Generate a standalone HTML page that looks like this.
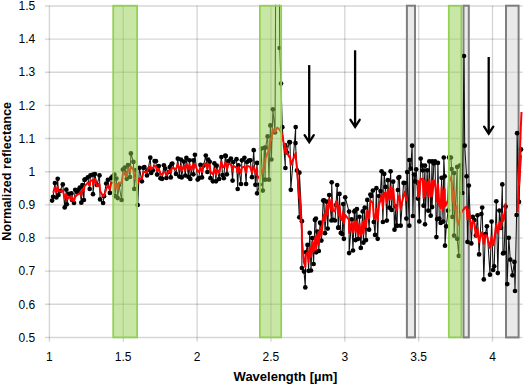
<!DOCTYPE html>
<html><head><meta charset="utf-8"><style>
html,body{margin:0;padding:0;background:#fff;}
body{width:525px;height:385px;overflow:hidden;}
svg{display:block;font-family:"Liberation Sans",sans-serif;}
</style></head><body>
<svg width="525" height="385" viewBox="0 0 525 385">
<rect width="525" height="385" fill="#fff"/>
<clipPath id="pc"><rect x="49.4" y="4.7" width="476.1" height="333.7"/></clipPath>
<g><line x1="44.9" y1="5.95" x2="522.5" y2="5.95" stroke="#000" stroke-opacity="0.16" stroke-width="1.4"/>
<line x1="44.9" y1="39.10" x2="522.5" y2="39.10" stroke="#000" stroke-opacity="0.16" stroke-width="1.4"/>
<line x1="44.9" y1="72.25" x2="522.5" y2="72.25" stroke="#000" stroke-opacity="0.16" stroke-width="1.4"/>
<line x1="44.9" y1="105.40" x2="522.5" y2="105.40" stroke="#000" stroke-opacity="0.16" stroke-width="1.4"/>
<line x1="44.9" y1="138.55" x2="522.5" y2="138.55" stroke="#000" stroke-opacity="0.16" stroke-width="1.4"/>
<line x1="44.9" y1="171.70" x2="522.5" y2="171.70" stroke="#000" stroke-opacity="0.16" stroke-width="1.4"/>
<line x1="44.9" y1="204.85" x2="522.5" y2="204.85" stroke="#000" stroke-opacity="0.16" stroke-width="1.4"/>
<line x1="44.9" y1="238.00" x2="522.5" y2="238.00" stroke="#000" stroke-opacity="0.16" stroke-width="1.4"/>
<line x1="44.9" y1="271.15" x2="522.5" y2="271.15" stroke="#000" stroke-opacity="0.16" stroke-width="1.4"/>
<line x1="44.9" y1="304.30" x2="522.5" y2="304.30" stroke="#000" stroke-opacity="0.16" stroke-width="1.4"/>
<line x1="44.9" y1="337.45" x2="522.5" y2="337.45" stroke="#000" stroke-opacity="0.16" stroke-width="1.4"/>
<line x1="49.40" y1="5.7" x2="49.40" y2="341.7" stroke="#000" stroke-opacity="0.16" stroke-width="1.4"/>
<line x1="123.25" y1="5.7" x2="123.25" y2="341.7" stroke="#000" stroke-opacity="0.16" stroke-width="1.4"/>
<line x1="197.10" y1="5.7" x2="197.10" y2="341.7" stroke="#000" stroke-opacity="0.16" stroke-width="1.4"/>
<line x1="270.95" y1="5.7" x2="270.95" y2="341.7" stroke="#000" stroke-opacity="0.16" stroke-width="1.4"/>
<line x1="344.80" y1="5.7" x2="344.80" y2="341.7" stroke="#000" stroke-opacity="0.16" stroke-width="1.4"/>
<line x1="418.65" y1="5.7" x2="418.65" y2="341.7" stroke="#000" stroke-opacity="0.16" stroke-width="1.4"/>
<line x1="492.50" y1="5.7" x2="492.50" y2="341.7" stroke="#000" stroke-opacity="0.16" stroke-width="1.4"/></g>
<g><rect x="406.9" y="5.7" width="8.1" height="331.7" fill="#d9d9d9" fill-opacity="0.55" stroke="#7f7f7f" stroke-width="2"/>
<rect x="463.5" y="5.7" width="5.3" height="331.7" fill="#d9d9d9" fill-opacity="0.55" stroke="#7f7f7f" stroke-width="2"/>
<rect x="506.0" y="5.7" width="12.6" height="331.7" fill="#d9d9d9" fill-opacity="0.55" stroke="#7f7f7f" stroke-width="2"/></g>
<g clip-path="url(#pc)"><polyline points="52.1,200.6 53.1,196.8 54.9,183.0 56.4,197.5 57.7,178.8 58.5,195.0 60.0,191.0 62.8,184.4 64.7,207.4 66.3,189.7 66.8,204.3 68.9,193.9 72.0,200.0 71.5,193.4 74.0,203.0 75.2,189.8 77.2,192.3 78.3,189.8 79.8,187.7 81.3,202.7 82.4,185.1 83.9,200.0 84.5,179.9 85.2,179.3 87.8,177.3 89.7,189.0 90.4,175.4 93.0,174.7 93.0,194.2 94.9,174.1 97.0,185.0 99.5,175.4 100.1,199.4 103.1,203.0 104.0,196.2 106.2,183.5 107.9,179.9 109.9,192.9 111.2,178.0 112.4,176.7 114.4,174.7 115.0,196.2 116.4,178.6 117.7,198.1 119.0,185.0 121.6,200.0 122.9,169.5 124.8,167.6 126.1,173.4 126.7,178.8 128.0,165.0 130.0,177.0 130.9,153.4 133.4,161.9 134.3,188.9 136.0,170.0 137.7,205.0 139.4,167.8 141.9,181.3 143.4,167.8 144.4,167.0 147.0,175.4 148.0,170.0 150.3,157.7 151.2,173.0 152.9,170.3 154.6,161.0 155.9,161.2 157.1,174.6 158.8,166.1 160.5,178.3 162.2,178.8 163.9,165.3 165.2,168.7 166.4,178.0 168.9,172.0 169.8,167.0 170.8,177.4 171.6,164.2 172.3,163.6 176.0,173.9 177.8,158.7 179.4,176.6 180.9,159.5 181.7,177.4 183.8,161.6 185.3,175.5 186.4,157.9 188.4,176.8 189.5,160.3 190.3,179.0 193.4,160.3 193.4,174.3 194.9,154.8 197.7,179.6 198.8,178.2 200.4,164.9 202.0,177.4 203.5,165.7 205.8,155.6 207.4,172.0 208.2,159.5 209.7,161.8 210.5,178.2 212.9,181.3 214.4,163.4 216.0,181.3 216.7,165.7 219.1,179.0 221.4,157.1 222.5,175.1 223.8,178.2 225.3,155.6 225.8,156.1 226.9,174.3 228.4,161.2 230.9,158.6 232.6,180.6 233.4,162.0 236.5,159.2 237.7,189.0 238.5,165.4 241.0,184.0 241.9,160.3 244.4,157.8 246.1,184.0 247.0,162.0 248.9,160.7 250.3,160.3 252.0,177.2 253.7,150.2 255.4,184.8 257.1,162.9 257.1,193.3 259.7,184.6 261.2,148.6 262.8,190.6 264.3,147.8 265.1,179.7 265.5,147.6 267.6,136.4 269.0,179.7 270.4,125.4 271.4,159.5 272.9,109.3 275.0,132.4 277.4,-400.0 279.7,48.0 281.0,83.6 282.3,127.2 285.4,168.0 285.0,145.0 285.4,146.2 286.9,152.5 289.3,142.1 290.0,142.3 290.8,189.8 295.7,127.1 295.5,143.1 297.0,170.4 299.3,217.3 299.4,172.7 301.9,221.2 301.9,268.0 304.0,271.6 305.3,287.4 305.8,252.3 307.5,244.9 308.6,270.8 309.7,232.9 311.0,270.5 312.3,238.0 313.6,264.0 314.9,219.9 315.9,218.6 316.2,252.3 317.5,231.6 318.6,233.2 318.8,251.0 320.1,222.5 320.5,223.2 321.4,240.6 323.2,200.5 324.0,200.4 325.0,233.2 326.6,201.7 327.7,228.6 329.2,195.0 331.4,220.5 331.7,182.3 333.0,219.9 335.0,220.5 336.0,205.0 337.2,185.0 338.2,227.7 338.6,227.7 339.5,193.9 340.8,232.9 342.3,234.1 343.2,204.1 343.9,238.8 345.2,197.3 349.1,211.6 349.1,253.1 351.7,219.4 353.0,250.5 354.3,211.6 355.0,210.7 355.6,240.1 356.9,209.0 358.2,238.8 359.5,216.8 360.8,247.9 362.7,211.4 363.4,242.7 364.7,207.7 366.0,240.1 367.3,199.9 369.1,229.7 370.4,194.6 371.2,196.0 372.9,190.5 373.8,222.0 375.1,234.9 376.4,188.2 377.7,238.8 379.0,196.0 380.5,191.1 381.6,171.3 382.9,222.0 384.2,173.9 385.5,186.9 386.8,220.6 387.9,180.2 389.4,207.7 390.6,171.3 391.6,209.9 393.2,181.7 394.5,229.7 395.8,206.4 396.4,225.7 397.1,225.8 397.9,190.0 398.4,177.8 399.3,177.1 400.7,225.7 403.6,182.9 404.9,183.0 406.4,218.6 407.2,172.1 409.3,225.7 409.3,160.0 410.7,168.6 412.1,145.7 412.9,216.0 414.0,174.5 415.0,181.4 416.2,169.3 417.9,198.6 417.9,182.9 419.3,221.4 420.7,158.6 422.1,165.7 422.8,170.3 423.6,205.7 425.0,165.7 425.0,224.3 427.2,170.3 428.3,210.7 429.3,161.4 430.7,215.7 432.1,161.4 432.1,207.1 433.8,163.5 435.0,161.4 436.4,237.1 437.1,219.1 437.9,162.9 439.3,218.6 440.7,222.9 441.6,177.8 443.1,221.6 443.8,157.5 444.7,176.3 445.0,245.7 446.3,226.3 448.1,210.7 449.1,157.4 450.9,157.5 451.6,169.1 452.5,216.9 454.1,173.1 454.1,235.6 457.2,166.9 457.2,238.8 458.8,255.9 460.3,165.3 462.3,193.0 464.0,56.0 464.7,145.7 466.6,176.3 467.5,241.9 468.8,185.6 471.3,243.4 472.8,216.9 474.4,220.0 475.9,235.6 477.5,215.3 479.1,254.4 481.4,214.0 482.2,207.5 483.8,279.4 485.3,234.1 486.9,226.3 490.0,274.7 491.6,221.6 493.1,270.0 494.2,266.3 496.3,201.3 497.8,273.1 499.4,210.6 500.9,227.8 502.3,184.4 503.0,253.4 504.1,252.8 505.6,206.6 507.2,284.1 508.8,237.8 510.3,259.7 512.5,275.3 514.4,261.9 515.0,291.0 516.6,215.0 517.1,133.2 519.0,201.9 521.0,149.4" fill="none" stroke="#111" stroke-width="1.05" stroke-linejoin="round"/>
<circle cx="52.1" cy="200.6" r="2.35"/>
<circle cx="53.1" cy="196.8" r="2.35"/>
<circle cx="54.9" cy="183.0" r="2.35"/>
<circle cx="56.4" cy="197.5" r="2.35"/>
<circle cx="57.7" cy="178.8" r="2.35"/>
<circle cx="58.5" cy="195.0" r="2.35"/>
<circle cx="60.0" cy="191.0" r="2.35"/>
<circle cx="62.8" cy="184.4" r="2.35"/>
<circle cx="64.7" cy="207.4" r="2.35"/>
<circle cx="66.3" cy="189.7" r="2.35"/>
<circle cx="66.8" cy="204.3" r="2.35"/>
<circle cx="68.9" cy="193.9" r="2.35"/>
<circle cx="72.0" cy="200.0" r="2.35"/>
<circle cx="71.5" cy="193.4" r="2.35"/>
<circle cx="74.0" cy="203.0" r="2.35"/>
<circle cx="75.2" cy="189.8" r="2.35"/>
<circle cx="77.2" cy="192.3" r="2.35"/>
<circle cx="78.3" cy="189.8" r="2.35"/>
<circle cx="79.8" cy="187.7" r="2.35"/>
<circle cx="81.3" cy="202.7" r="2.35"/>
<circle cx="82.4" cy="185.1" r="2.35"/>
<circle cx="83.9" cy="200.0" r="2.35"/>
<circle cx="84.5" cy="179.9" r="2.35"/>
<circle cx="85.2" cy="179.3" r="2.35"/>
<circle cx="87.8" cy="177.3" r="2.35"/>
<circle cx="89.7" cy="189.0" r="2.35"/>
<circle cx="90.4" cy="175.4" r="2.35"/>
<circle cx="93.0" cy="174.7" r="2.35"/>
<circle cx="93.0" cy="194.2" r="2.35"/>
<circle cx="94.9" cy="174.1" r="2.35"/>
<circle cx="97.0" cy="185.0" r="2.35"/>
<circle cx="99.5" cy="175.4" r="2.35"/>
<circle cx="100.1" cy="199.4" r="2.35"/>
<circle cx="103.1" cy="203.0" r="2.35"/>
<circle cx="104.0" cy="196.2" r="2.35"/>
<circle cx="106.2" cy="183.5" r="2.35"/>
<circle cx="107.9" cy="179.9" r="2.35"/>
<circle cx="109.9" cy="192.9" r="2.35"/>
<circle cx="111.2" cy="178.0" r="2.35"/>
<circle cx="112.4" cy="176.7" r="2.35"/>
<circle cx="114.4" cy="174.7" r="2.35"/>
<circle cx="115.0" cy="196.2" r="2.35"/>
<circle cx="116.4" cy="178.6" r="2.35"/>
<circle cx="117.7" cy="198.1" r="2.35"/>
<circle cx="119.0" cy="185.0" r="2.35"/>
<circle cx="121.6" cy="200.0" r="2.35"/>
<circle cx="122.9" cy="169.5" r="2.35"/>
<circle cx="124.8" cy="167.6" r="2.35"/>
<circle cx="126.1" cy="173.4" r="2.35"/>
<circle cx="126.7" cy="178.8" r="2.35"/>
<circle cx="128.0" cy="165.0" r="2.35"/>
<circle cx="130.0" cy="177.0" r="2.35"/>
<circle cx="130.9" cy="153.4" r="2.35"/>
<circle cx="133.4" cy="161.9" r="2.35"/>
<circle cx="134.3" cy="188.9" r="2.35"/>
<circle cx="136.0" cy="170.0" r="2.35"/>
<circle cx="137.7" cy="205.0" r="2.35"/>
<circle cx="139.4" cy="167.8" r="2.35"/>
<circle cx="141.9" cy="181.3" r="2.35"/>
<circle cx="143.4" cy="167.8" r="2.35"/>
<circle cx="144.4" cy="167.0" r="2.35"/>
<circle cx="147.0" cy="175.4" r="2.35"/>
<circle cx="148.0" cy="170.0" r="2.35"/>
<circle cx="150.3" cy="157.7" r="2.35"/>
<circle cx="151.2" cy="173.0" r="2.35"/>
<circle cx="152.9" cy="170.3" r="2.35"/>
<circle cx="154.6" cy="161.0" r="2.35"/>
<circle cx="155.9" cy="161.2" r="2.35"/>
<circle cx="157.1" cy="174.6" r="2.35"/>
<circle cx="158.8" cy="166.1" r="2.35"/>
<circle cx="160.5" cy="178.3" r="2.35"/>
<circle cx="162.2" cy="178.8" r="2.35"/>
<circle cx="163.9" cy="165.3" r="2.35"/>
<circle cx="165.2" cy="168.7" r="2.35"/>
<circle cx="166.4" cy="178.0" r="2.35"/>
<circle cx="168.9" cy="172.0" r="2.35"/>
<circle cx="169.8" cy="167.0" r="2.35"/>
<circle cx="170.8" cy="177.4" r="2.35"/>
<circle cx="171.6" cy="164.2" r="2.35"/>
<circle cx="172.3" cy="163.6" r="2.35"/>
<circle cx="176.0" cy="173.9" r="2.35"/>
<circle cx="177.8" cy="158.7" r="2.35"/>
<circle cx="179.4" cy="176.6" r="2.35"/>
<circle cx="180.9" cy="159.5" r="2.35"/>
<circle cx="181.7" cy="177.4" r="2.35"/>
<circle cx="183.8" cy="161.6" r="2.35"/>
<circle cx="185.3" cy="175.5" r="2.35"/>
<circle cx="186.4" cy="157.9" r="2.35"/>
<circle cx="188.4" cy="176.8" r="2.35"/>
<circle cx="189.5" cy="160.3" r="2.35"/>
<circle cx="190.3" cy="179.0" r="2.35"/>
<circle cx="193.4" cy="160.3" r="2.35"/>
<circle cx="193.4" cy="174.3" r="2.35"/>
<circle cx="194.9" cy="154.8" r="2.35"/>
<circle cx="197.7" cy="179.6" r="2.35"/>
<circle cx="198.8" cy="178.2" r="2.35"/>
<circle cx="200.4" cy="164.9" r="2.35"/>
<circle cx="202.0" cy="177.4" r="2.35"/>
<circle cx="203.5" cy="165.7" r="2.35"/>
<circle cx="205.8" cy="155.6" r="2.35"/>
<circle cx="207.4" cy="172.0" r="2.35"/>
<circle cx="208.2" cy="159.5" r="2.35"/>
<circle cx="209.7" cy="161.8" r="2.35"/>
<circle cx="210.5" cy="178.2" r="2.35"/>
<circle cx="212.9" cy="181.3" r="2.35"/>
<circle cx="214.4" cy="163.4" r="2.35"/>
<circle cx="216.0" cy="181.3" r="2.35"/>
<circle cx="216.7" cy="165.7" r="2.35"/>
<circle cx="219.1" cy="179.0" r="2.35"/>
<circle cx="221.4" cy="157.1" r="2.35"/>
<circle cx="222.5" cy="175.1" r="2.35"/>
<circle cx="223.8" cy="178.2" r="2.35"/>
<circle cx="225.3" cy="155.6" r="2.35"/>
<circle cx="225.8" cy="156.1" r="2.35"/>
<circle cx="226.9" cy="174.3" r="2.35"/>
<circle cx="228.4" cy="161.2" r="2.35"/>
<circle cx="230.9" cy="158.6" r="2.35"/>
<circle cx="232.6" cy="180.6" r="2.35"/>
<circle cx="233.4" cy="162.0" r="2.35"/>
<circle cx="236.5" cy="159.2" r="2.35"/>
<circle cx="237.7" cy="189.0" r="2.35"/>
<circle cx="238.5" cy="165.4" r="2.35"/>
<circle cx="241.0" cy="184.0" r="2.35"/>
<circle cx="241.9" cy="160.3" r="2.35"/>
<circle cx="244.4" cy="157.8" r="2.35"/>
<circle cx="246.1" cy="184.0" r="2.35"/>
<circle cx="247.0" cy="162.0" r="2.35"/>
<circle cx="248.9" cy="160.7" r="2.35"/>
<circle cx="250.3" cy="160.3" r="2.35"/>
<circle cx="252.0" cy="177.2" r="2.35"/>
<circle cx="253.7" cy="150.2" r="2.35"/>
<circle cx="255.4" cy="184.8" r="2.35"/>
<circle cx="257.1" cy="162.9" r="2.35"/>
<circle cx="257.1" cy="193.3" r="2.35"/>
<circle cx="259.7" cy="184.6" r="2.35"/>
<circle cx="261.2" cy="148.6" r="2.35"/>
<circle cx="262.8" cy="190.6" r="2.35"/>
<circle cx="264.3" cy="147.8" r="2.35"/>
<circle cx="265.1" cy="179.7" r="2.35"/>
<circle cx="265.5" cy="147.6" r="2.35"/>
<circle cx="267.6" cy="136.4" r="2.35"/>
<circle cx="269.0" cy="179.7" r="2.35"/>
<circle cx="270.4" cy="125.4" r="2.35"/>
<circle cx="271.4" cy="159.5" r="2.35"/>
<circle cx="272.9" cy="109.3" r="2.35"/>
<circle cx="275.0" cy="132.4" r="2.35"/>
<circle cx="277.4" cy="-400.0" r="2.35"/>
<circle cx="279.7" cy="48.0" r="2.35"/>
<circle cx="281.0" cy="83.6" r="2.35"/>
<circle cx="282.3" cy="127.2" r="2.35"/>
<circle cx="285.4" cy="168.0" r="2.35"/>
<circle cx="285.0" cy="145.0" r="2.35"/>
<circle cx="285.4" cy="146.2" r="2.35"/>
<circle cx="286.9" cy="152.5" r="2.35"/>
<circle cx="289.3" cy="142.1" r="2.35"/>
<circle cx="290.0" cy="142.3" r="2.35"/>
<circle cx="290.8" cy="189.8" r="2.35"/>
<circle cx="295.7" cy="127.1" r="2.35"/>
<circle cx="295.5" cy="143.1" r="2.35"/>
<circle cx="297.0" cy="170.4" r="2.35"/>
<circle cx="299.3" cy="217.3" r="2.35"/>
<circle cx="299.4" cy="172.7" r="2.35"/>
<circle cx="301.9" cy="221.2" r="2.35"/>
<circle cx="301.9" cy="268.0" r="2.35"/>
<circle cx="304.0" cy="271.6" r="2.35"/>
<circle cx="305.3" cy="287.4" r="2.35"/>
<circle cx="305.8" cy="252.3" r="2.35"/>
<circle cx="307.5" cy="244.9" r="2.35"/>
<circle cx="308.6" cy="270.8" r="2.35"/>
<circle cx="309.7" cy="232.9" r="2.35"/>
<circle cx="311.0" cy="270.5" r="2.35"/>
<circle cx="312.3" cy="238.0" r="2.35"/>
<circle cx="313.6" cy="264.0" r="2.35"/>
<circle cx="314.9" cy="219.9" r="2.35"/>
<circle cx="315.9" cy="218.6" r="2.35"/>
<circle cx="316.2" cy="252.3" r="2.35"/>
<circle cx="317.5" cy="231.6" r="2.35"/>
<circle cx="318.6" cy="233.2" r="2.35"/>
<circle cx="318.8" cy="251.0" r="2.35"/>
<circle cx="320.1" cy="222.5" r="2.35"/>
<circle cx="320.5" cy="223.2" r="2.35"/>
<circle cx="321.4" cy="240.6" r="2.35"/>
<circle cx="323.2" cy="200.5" r="2.35"/>
<circle cx="324.0" cy="200.4" r="2.35"/>
<circle cx="325.0" cy="233.2" r="2.35"/>
<circle cx="326.6" cy="201.7" r="2.35"/>
<circle cx="327.7" cy="228.6" r="2.35"/>
<circle cx="329.2" cy="195.0" r="2.35"/>
<circle cx="331.4" cy="220.5" r="2.35"/>
<circle cx="331.7" cy="182.3" r="2.35"/>
<circle cx="333.0" cy="219.9" r="2.35"/>
<circle cx="335.0" cy="220.5" r="2.35"/>
<circle cx="336.0" cy="205.0" r="2.35"/>
<circle cx="337.2" cy="185.0" r="2.35"/>
<circle cx="338.2" cy="227.7" r="2.35"/>
<circle cx="338.6" cy="227.7" r="2.35"/>
<circle cx="339.5" cy="193.9" r="2.35"/>
<circle cx="340.8" cy="232.9" r="2.35"/>
<circle cx="342.3" cy="234.1" r="2.35"/>
<circle cx="343.2" cy="204.1" r="2.35"/>
<circle cx="343.9" cy="238.8" r="2.35"/>
<circle cx="345.2" cy="197.3" r="2.35"/>
<circle cx="349.1" cy="211.6" r="2.35"/>
<circle cx="349.1" cy="253.1" r="2.35"/>
<circle cx="351.7" cy="219.4" r="2.35"/>
<circle cx="353.0" cy="250.5" r="2.35"/>
<circle cx="354.3" cy="211.6" r="2.35"/>
<circle cx="355.0" cy="210.7" r="2.35"/>
<circle cx="355.6" cy="240.1" r="2.35"/>
<circle cx="356.9" cy="209.0" r="2.35"/>
<circle cx="358.2" cy="238.8" r="2.35"/>
<circle cx="359.5" cy="216.8" r="2.35"/>
<circle cx="360.8" cy="247.9" r="2.35"/>
<circle cx="362.7" cy="211.4" r="2.35"/>
<circle cx="363.4" cy="242.7" r="2.35"/>
<circle cx="364.7" cy="207.7" r="2.35"/>
<circle cx="366.0" cy="240.1" r="2.35"/>
<circle cx="367.3" cy="199.9" r="2.35"/>
<circle cx="369.1" cy="229.7" r="2.35"/>
<circle cx="370.4" cy="194.6" r="2.35"/>
<circle cx="371.2" cy="196.0" r="2.35"/>
<circle cx="372.9" cy="190.5" r="2.35"/>
<circle cx="373.8" cy="222.0" r="2.35"/>
<circle cx="375.1" cy="234.9" r="2.35"/>
<circle cx="376.4" cy="188.2" r="2.35"/>
<circle cx="377.7" cy="238.8" r="2.35"/>
<circle cx="379.0" cy="196.0" r="2.35"/>
<circle cx="380.5" cy="191.1" r="2.35"/>
<circle cx="381.6" cy="171.3" r="2.35"/>
<circle cx="382.9" cy="222.0" r="2.35"/>
<circle cx="384.2" cy="173.9" r="2.35"/>
<circle cx="385.5" cy="186.9" r="2.35"/>
<circle cx="386.8" cy="220.6" r="2.35"/>
<circle cx="387.9" cy="180.2" r="2.35"/>
<circle cx="389.4" cy="207.7" r="2.35"/>
<circle cx="390.6" cy="171.3" r="2.35"/>
<circle cx="391.6" cy="209.9" r="2.35"/>
<circle cx="393.2" cy="181.7" r="2.35"/>
<circle cx="394.5" cy="229.7" r="2.35"/>
<circle cx="395.8" cy="206.4" r="2.35"/>
<circle cx="396.4" cy="225.7" r="2.35"/>
<circle cx="397.1" cy="225.8" r="2.35"/>
<circle cx="397.9" cy="190.0" r="2.35"/>
<circle cx="398.4" cy="177.8" r="2.35"/>
<circle cx="399.3" cy="177.1" r="2.35"/>
<circle cx="400.7" cy="225.7" r="2.35"/>
<circle cx="403.6" cy="182.9" r="2.35"/>
<circle cx="404.9" cy="183.0" r="2.35"/>
<circle cx="406.4" cy="218.6" r="2.35"/>
<circle cx="407.2" cy="172.1" r="2.35"/>
<circle cx="409.3" cy="225.7" r="2.35"/>
<circle cx="409.3" cy="160.0" r="2.35"/>
<circle cx="410.7" cy="168.6" r="2.35"/>
<circle cx="412.1" cy="145.7" r="2.35"/>
<circle cx="412.9" cy="216.0" r="2.35"/>
<circle cx="414.0" cy="174.5" r="2.35"/>
<circle cx="415.0" cy="181.4" r="2.35"/>
<circle cx="416.2" cy="169.3" r="2.35"/>
<circle cx="417.9" cy="198.6" r="2.35"/>
<circle cx="417.9" cy="182.9" r="2.35"/>
<circle cx="419.3" cy="221.4" r="2.35"/>
<circle cx="420.7" cy="158.6" r="2.35"/>
<circle cx="422.1" cy="165.7" r="2.35"/>
<circle cx="422.8" cy="170.3" r="2.35"/>
<circle cx="423.6" cy="205.7" r="2.35"/>
<circle cx="425.0" cy="165.7" r="2.35"/>
<circle cx="425.0" cy="224.3" r="2.35"/>
<circle cx="427.2" cy="170.3" r="2.35"/>
<circle cx="428.3" cy="210.7" r="2.35"/>
<circle cx="429.3" cy="161.4" r="2.35"/>
<circle cx="430.7" cy="215.7" r="2.35"/>
<circle cx="432.1" cy="161.4" r="2.35"/>
<circle cx="432.1" cy="207.1" r="2.35"/>
<circle cx="433.8" cy="163.5" r="2.35"/>
<circle cx="435.0" cy="161.4" r="2.35"/>
<circle cx="436.4" cy="237.1" r="2.35"/>
<circle cx="437.1" cy="219.1" r="2.35"/>
<circle cx="437.9" cy="162.9" r="2.35"/>
<circle cx="439.3" cy="218.6" r="2.35"/>
<circle cx="440.7" cy="222.9" r="2.35"/>
<circle cx="441.6" cy="177.8" r="2.35"/>
<circle cx="443.1" cy="221.6" r="2.35"/>
<circle cx="443.8" cy="157.5" r="2.35"/>
<circle cx="444.7" cy="176.3" r="2.35"/>
<circle cx="445.0" cy="245.7" r="2.35"/>
<circle cx="446.3" cy="226.3" r="2.35"/>
<circle cx="448.1" cy="210.7" r="2.35"/>
<circle cx="449.1" cy="157.4" r="2.35"/>
<circle cx="450.9" cy="157.5" r="2.35"/>
<circle cx="451.6" cy="169.1" r="2.35"/>
<circle cx="452.5" cy="216.9" r="2.35"/>
<circle cx="454.1" cy="173.1" r="2.35"/>
<circle cx="454.1" cy="235.6" r="2.35"/>
<circle cx="457.2" cy="166.9" r="2.35"/>
<circle cx="457.2" cy="238.8" r="2.35"/>
<circle cx="458.8" cy="255.9" r="2.35"/>
<circle cx="460.3" cy="165.3" r="2.35"/>
<circle cx="462.3" cy="193.0" r="2.35"/>
<circle cx="464.0" cy="56.0" r="2.35"/>
<circle cx="464.7" cy="145.7" r="2.35"/>
<circle cx="466.6" cy="176.3" r="2.35"/>
<circle cx="467.5" cy="241.9" r="2.35"/>
<circle cx="468.8" cy="185.6" r="2.35"/>
<circle cx="471.3" cy="243.4" r="2.35"/>
<circle cx="472.8" cy="216.9" r="2.35"/>
<circle cx="474.4" cy="220.0" r="2.35"/>
<circle cx="475.9" cy="235.6" r="2.35"/>
<circle cx="477.5" cy="215.3" r="2.35"/>
<circle cx="479.1" cy="254.4" r="2.35"/>
<circle cx="481.4" cy="214.0" r="2.35"/>
<circle cx="482.2" cy="207.5" r="2.35"/>
<circle cx="483.8" cy="279.4" r="2.35"/>
<circle cx="485.3" cy="234.1" r="2.35"/>
<circle cx="486.9" cy="226.3" r="2.35"/>
<circle cx="490.0" cy="274.7" r="2.35"/>
<circle cx="491.6" cy="221.6" r="2.35"/>
<circle cx="493.1" cy="270.0" r="2.35"/>
<circle cx="494.2" cy="266.3" r="2.35"/>
<circle cx="496.3" cy="201.3" r="2.35"/>
<circle cx="497.8" cy="273.1" r="2.35"/>
<circle cx="499.4" cy="210.6" r="2.35"/>
<circle cx="500.9" cy="227.8" r="2.35"/>
<circle cx="502.3" cy="184.4" r="2.35"/>
<circle cx="503.0" cy="253.4" r="2.35"/>
<circle cx="504.1" cy="252.8" r="2.35"/>
<circle cx="505.6" cy="206.6" r="2.35"/>
<circle cx="507.2" cy="284.1" r="2.35"/>
<circle cx="508.8" cy="237.8" r="2.35"/>
<circle cx="510.3" cy="259.7" r="2.35"/>
<circle cx="512.5" cy="275.3" r="2.35"/>
<circle cx="514.4" cy="261.9" r="2.35"/>
<circle cx="515.0" cy="291.0" r="2.35"/>
<circle cx="516.6" cy="215.0" r="2.35"/>
<circle cx="517.1" cy="133.2" r="2.35"/>
<circle cx="519.0" cy="201.9" r="2.35"/>
<circle cx="521.0" cy="149.4" r="2.35"/>
<polyline points="53.1,192.8 54.9,187.5 56.4,192.0 57.7,186.8 58.5,190.7 60.0,191.6 62.8,190.4 64.7,197.7 66.3,194.6 66.8,199.7 68.9,196.5 72.0,200.8 71.5,196.1 74.0,201.3 75.2,196.7 77.2,194.8 78.3,194.2 79.8,192.9 81.3,195.9 82.4,189.2 83.9,191.0 84.5,186.0 85.2,185.7 87.8,182.6 89.7,185.6 90.4,181.1 93.0,179.9 93.0,184.7 94.9,179.1 97.0,186.0 99.5,184.5 100.1,191.0 103.1,196.2 104.0,195.8 106.2,189.2 107.9,185.3 109.9,189.8 111.2,182.7 112.4,182.6 114.4,183.8 115.0,188.8 116.4,184.2 117.7,189.5 119.0,182.5 121.6,182.9 122.9,173.9 124.8,172.7 126.1,176.8 126.7,175.7 128.0,168.9 130.0,171.1 130.9,166.5 133.4,169.9 134.3,176.7 136.0,179.8 137.7,183.7 139.4,178.5 141.9,178.4 143.4,172.4 144.4,171.7 147.0,172.5 148.0,168.0 150.3,166.4 151.2,169.1 152.9,167.9 154.6,165.8 155.9,166.5 157.1,171.0 158.8,168.9 160.5,173.6 162.2,174.9 163.9,172.1 165.2,171.9 166.4,175.3 168.9,171.0 169.8,170.6 170.8,172.8 171.6,168.6 172.3,167.7 176.0,169.2 177.8,164.1 179.4,169.4 180.9,165.8 181.7,170.8 183.8,166.1 185.3,170.3 186.4,163.9 188.4,169.3 189.5,164.1 190.3,169.5 193.4,164.3 193.4,169.7 194.9,164.0 197.7,171.5 198.8,171.9 200.4,167.6 202.0,172.3 203.5,165.2 205.8,163.3 207.4,169.1 208.2,164.1 209.7,164.6 210.5,171.8 212.9,174.3 214.4,168.8 216.0,174.9 216.7,169.7 219.1,172.4 221.4,161.4 222.5,167.2 223.8,167.1 225.3,162.8 225.8,163.0 226.9,169.4 228.4,163.8 230.9,164.3 232.6,171.3 233.4,165.8 236.5,167.7 237.7,173.0 238.5,167.0 241.0,173.1 241.9,167.6 244.4,166.3 246.1,173.0 247.0,166.3 248.9,166.3 250.3,167.1 252.0,172.7 253.7,166.3 255.4,172.5 257.1,168.9 257.1,175.3 259.7,178.9 261.2,170.5 262.8,173.1 264.3,162.6 265.1,165.1 265.5,158.7 267.6,152.5 269.0,151.9 270.4,139.0 271.4,139.9 272.9,129.2 275.0,132.0 277.4,127.6 279.7,129.9 281.0,132.1 282.3,135.4 285.4,153.0 285.0,144.1 285.4,146.5 286.9,152.8 289.3,157.0 290.0,156.3 290.8,164.8 295.7,153.1 295.5,154.5 297.0,168.3 299.3,198.2 299.4,191.6 301.9,230.7 301.9,240.2 304.0,262.4 305.3,266.9 305.8,255.1 307.5,252.3 308.6,261.9 309.7,247.2 311.0,257.1 312.3,241.7 313.6,251.8 314.9,238.8 315.9,236.5 316.2,249.5 317.5,235.2 318.6,231.7 318.8,244.6 320.1,229.1 320.5,227.5 321.4,235.7 323.2,217.7 324.0,214.5 325.0,221.2 326.6,205.2 327.7,214.6 329.2,199.1 331.4,210.7 331.7,199.0 333.0,210.1 335.0,211.7 336.0,201.5 337.2,201.5 338.2,213.3 338.6,215.5 339.5,206.0 340.8,218.2 342.3,220.4 343.2,211.8 343.9,223.8 345.2,214.9 349.1,220.0 349.1,232.7 351.7,222.1 353.0,232.1 354.3,223.2 355.0,221.5 355.6,232.3 356.9,221.3 358.2,235.4 359.5,223.6 360.8,235.8 362.7,221.8 363.4,234.0 364.7,220.5 366.0,227.1 367.3,210.8 369.1,218.5 370.4,201.3 371.2,201.1 372.9,203.1 373.8,217.2 375.1,219.0 376.4,208.8 377.7,221.0 379.0,204.4 380.5,200.3 381.6,194.1 382.9,208.0 384.2,193.3 385.5,192.3 386.8,202.8 387.9,189.5 389.4,199.4 390.6,186.9 391.6,199.7 393.2,188.1 394.5,202.9 395.8,208.3 396.4,210.4 397.1,210.6 397.9,198.5 398.4,198.4 399.3,195.2 400.7,208.5 403.6,195.7 404.9,191.4 406.4,201.1" fill="none" stroke="#ff0000" stroke-width="2" stroke-linejoin="round"/>
<polyline points="417.9,198.1 417.9,180.8 419.3,194.8 420.7,178.4 422.1,179.6 422.8,178.5 423.6,198.0 425.0,180.2 425.0,196.2 427.2,182.1 428.3,196.1 429.3,179.4 430.7,196.0 432.1,180.5 432.1,195.9 433.8,181.8 435.0,180.3 436.4,199.7 437.1,201.7 437.9,183.4 439.3,205.3 440.7,208.1 441.6,187.1 443.1,211.1 443.8,190.7 444.7,189.4 445.0,206.6 446.3,204.4 448.1,199.6 449.1,175.4 450.9,180.3 451.6,181.1 452.5,201.8 454.1,190.8 454.1,209.7 457.2,206.0 457.2,221.1 458.8,224.9 460.3,214.1 462.3,210.9 464.0,209.0 464.7,207.9 466.6,206.5 467.5,219.4 468.8,209.5 471.3,229.3 472.8,220.7 474.4,223.7 475.9,237.1 477.5,228.1 479.1,242.3 481.4,232.5 482.2,233.7 483.8,244.1 485.3,234.7 486.9,235.6 490.0,247.9 491.6,236.3 493.1,245.2 494.2,240.4 496.3,224.0 497.8,233.6 499.4,222.2 500.9,228.5 502.3,213.9 503.0,221.1 504.1,218.8 505.6,203.2" fill="none" stroke="#ff0000" stroke-width="2" stroke-linejoin="round"/>
<polyline points="519.0,185.6 521.0,155.1" fill="none" stroke="#ff0000" stroke-width="2" stroke-linejoin="round"/>
<polyline points="517.6,212.0 518.8,180.0 520.0,150.0 520.8,128.0 521.5,112.0" fill="none" stroke="#ff0000" stroke-width="2" stroke-linejoin="round"/></g>
<g><rect x="113.2" y="5.7" width="23.9" height="331.7" fill="#92d050" fill-opacity="0.5" stroke="#92d050" stroke-width="1.75"/>
<rect x="259.9" y="5.7" width="21.3" height="331.7" fill="#92d050" fill-opacity="0.5" stroke="#92d050" stroke-width="1.75"/>
<rect x="448.8" y="5.7" width="12.5" height="331.7" fill="#92d050" fill-opacity="0.5" stroke="#92d050" stroke-width="1.75"/></g>
<g><line x1="309.2" y1="65.1" x2="309.2" y2="141.6" stroke="#000" stroke-width="2.3"/>
<polyline points="304.6,135.1 309.2,142.1 313.8,135.1" fill="none" stroke="#000" stroke-width="2.3" stroke-linecap="round" stroke-linejoin="miter"/>
<line x1="355.1" y1="50.3" x2="355.1" y2="126.3" stroke="#000" stroke-width="2.3"/>
<polyline points="350.5,119.8 355.1,126.8 359.7,119.8" fill="none" stroke="#000" stroke-width="2.3" stroke-linecap="round" stroke-linejoin="miter"/>
<line x1="488.7" y1="57" x2="488.7" y2="133.2" stroke="#000" stroke-width="2.3"/>
<polyline points="484.1,126.7 488.7,133.7 493.3,126.7" fill="none" stroke="#000" stroke-width="2.3" stroke-linecap="round" stroke-linejoin="miter"/></g>
<g font-size="12" fill="#000"><text x="35.3" y="10.0" text-anchor="end">1.5</text>
<text x="35.3" y="43.2" text-anchor="end">1.4</text>
<text x="35.3" y="76.3" text-anchor="end">1.3</text>
<text x="35.3" y="109.5" text-anchor="end">1.2</text>
<text x="35.3" y="142.7" text-anchor="end">1.1</text>
<text x="35.3" y="175.9" text-anchor="end">1</text>
<text x="35.3" y="209.0" text-anchor="end">0.9</text>
<text x="35.3" y="242.2" text-anchor="end">0.8</text>
<text x="35.3" y="275.4" text-anchor="end">0.7</text>
<text x="35.3" y="308.5" text-anchor="end">0.6</text>
<text x="35.3" y="341.7" text-anchor="end">0.5</text>
<text x="49.4" y="360.7" text-anchor="middle">1</text>
<text x="123.2" y="360.7" text-anchor="middle">1.5</text>
<text x="197.1" y="360.7" text-anchor="middle">2</text>
<text x="270.9" y="360.7" text-anchor="middle">2.5</text>
<text x="344.8" y="360.7" text-anchor="middle">3</text>
<text x="418.6" y="360.7" text-anchor="middle">3.5</text>
<text x="492.5" y="360.7" text-anchor="middle">4</text></g>
<text x="285.5" y="380.6" text-anchor="middle" font-size="13" font-weight="bold">Wavelength [µm]</text>
<text transform="translate(11.2,171.4) rotate(-90)" text-anchor="middle" font-size="12.7" font-weight="bold">Normalized reflectance</text>
</svg>
</body></html>
